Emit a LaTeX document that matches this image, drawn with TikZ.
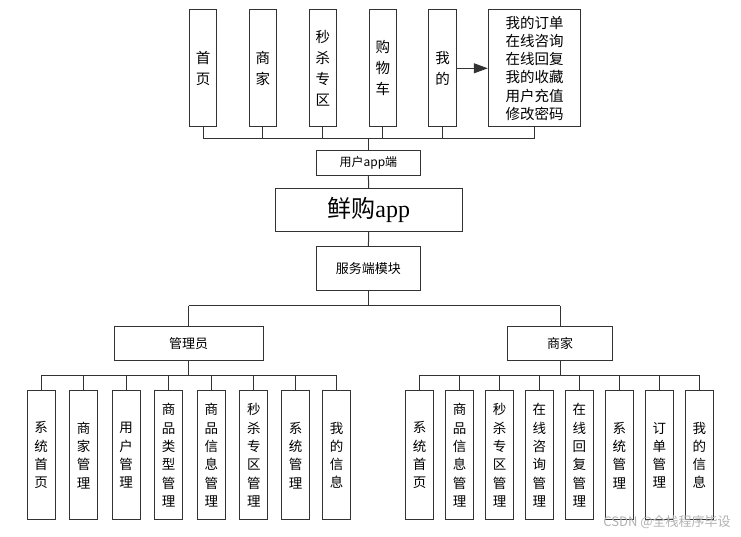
\documentclass[tikz,border=0pt]{standalone}
\usepackage{fontspec}
\usetikzlibrary{arrows.meta}
\newfontfamily\cjk{Noto Sans CJK SC}
\newfontfamily\latinserif{Liberation Serif}
\begin{document}
\begin{tikzpicture}[x=1pt,y=-1pt]
\tikzset{
  box/.style={draw=black!80, line width=1pt, fill=white, inner sep=0pt, align=center},
  topbox/.style={box, minimum width=27.5, minimum height=116.7,
    font=\cjk\fontsize{14.5}{21}\selectfont},
  listbox/.style={box, minimum width=92.4, minimum height=116.7,
    font=\cjk\fontsize{14.5}{18.2}\selectfont},
  leafbox/.style={box, minimum width=28, minimum height=129.3,
    font=\cjk\fontsize{13.5}{18.3}\selectfont},
  label/.style={box, font=\cjk\fontsize{12}{14}\selectfont},
  link/.style={draw=black!80, line width=1pt},
}
\useasboundingbox (0,0) rectangle (741,537);
\fill[white] (0,0) rectangle (741,537);

% user side: front-end pages
\node[topbox] (home) at (203,68.3) {首\\页};
\node[topbox] (shop) at (262.8,68.3) {商\\家};
\node[topbox] (sale) at (322.8,68.3) {秒\\杀\\专\\区};
\node[topbox] (cart) at (382.8,68.3) {购\\物\\车};
\node[topbox] (mine) at (442.5,68.3) {我\\的};
\node[listbox] (minelist) at (534.5,68.3) {我的订单\\在线咨询\\在线回复\\我的收藏\\用户充值\\修改密码};
\draw[link, -{Triangle[length=14pt,width=10pt]}] (mine.east) -- (minelist.west);

\node[label, minimum width=103.3, minimum height=25.7] (userapp) at (368.4,162.9) {用户app端};
\node[box, minimum width=187.3, minimum height=43.4,
  font=\cjk\fontsize{24}{28}\selectfont] (app) at (368.7,210) {鲜购{\latinserif app}};
\node[label, minimum width=103.3, minimum height=43.3,
  font=\cjk\fontsize{13}{15}\selectfont] (server) at (368.4,268.4) {服务端模块};

\node[label, minimum width=149.3, minimum height=33.3,
  font=\cjk\fontsize{13}{15}\selectfont] (admin) at (188.7,343.4) {管理员};
\node[label, minimum width=105.4, minimum height=33.3,
  font=\cjk\fontsize{13}{15}\selectfont] (merchant) at (560,343.4) {商家};

% administrator modules
\node[leafbox] (a1) at (41,455.3) {系\\统\\首\\页};
\node[leafbox] (a2) at (83.5,455.3) {商\\家\\管\\理};
\node[leafbox] (a3) at (126,455.3) {用\\户\\管\\理};
\node[leafbox] (a4) at (168.7,455.3) {商\\品\\类\\型\\管\\理};
\node[leafbox] (a5) at (211.3,455.3) {商\\品\\信\\息\\管\\理};
\node[leafbox] (a6) at (253.8,455.3) {秒\\杀\\专\\区\\管\\理};
\node[leafbox] (a7) at (295.5,455.3) {系\\统\\管\\理};
\node[leafbox] (a8) at (336.7,455.3) {我\\的\\信\\息};

% merchant modules
\node[leafbox] (m1) at (419.5,455.3) {系\\统\\首\\页};
\node[leafbox] (m2) at (459.5,455.3) {商\\品\\信\\息\\管\\理};
\node[leafbox] (m3) at (499.5,455.3) {秒\\杀\\专\\区\\管\\理};
\node[leafbox] (m4) at (539.3,455.3) {在\\线\\咨\\询\\管\\理};
\node[leafbox] (m5) at (579.3,455.3) {在\\线\\回\\复\\管\\理};
\node[leafbox] (m6) at (619.3,455.3) {系\\统\\管\\理};
\node[leafbox] (m7) at (659.3,455.3) {订\\单\\管\\理};
\node[leafbox] (m8) at (699.3,455.3) {我\\的\\信\\息};

% bus lines
\coordinate (topbus) at (0,139);
\coordinate (midbus) at (0,305.7);
\coordinate (lowbus) at (0,375);

\foreach \n in {home,shop,sale,cart,mine,minelist}
  \draw[link] (\n.south) -- (\n.south |- topbus);
\draw[link] (home.south |- topbus) -- (minelist.south |- topbus);
\draw[link] (userapp.north |- topbus) -- (userapp.north);
\draw[link] (userapp.south) -- (app.north);
\draw[link] (app.south) -- (server.north);
\draw[link] (server.south) -- (server.south |- midbus);
\draw[link] (admin.north |- midbus) -- (merchant.north |- midbus);
\draw[link] (admin.north |- midbus) -- (admin.north);
\draw[link] (merchant.north |- midbus) -- (merchant.north);

\draw[link] (admin.south) -- (admin.south |- lowbus);
\draw[link] (a1.north |- lowbus) -- (a8.north |- lowbus);
\foreach \n in {a1,a2,a3,a4,a5,a6,a7,a8}
  \draw[link] (\n.north |- lowbus) -- (\n.north);

\draw[link] (merchant.south) -- (merchant.south |- lowbus);
\draw[link] (m1.north |- lowbus) -- (m8.north |- lowbus);
\foreach \n in {m1,m2,m3,m4,m5,m6,m7,m8}
  \draw[link] (\n.north |- lowbus) -- (\n.north);

% watermark
\node[font=\cjk\fontsize{13}{15}\selectfont, text=black!30, inner sep=0pt] (wm) at (667,522.5) {CSDN @全栈程序毕设};
\end{tikzpicture}
\end{document}
